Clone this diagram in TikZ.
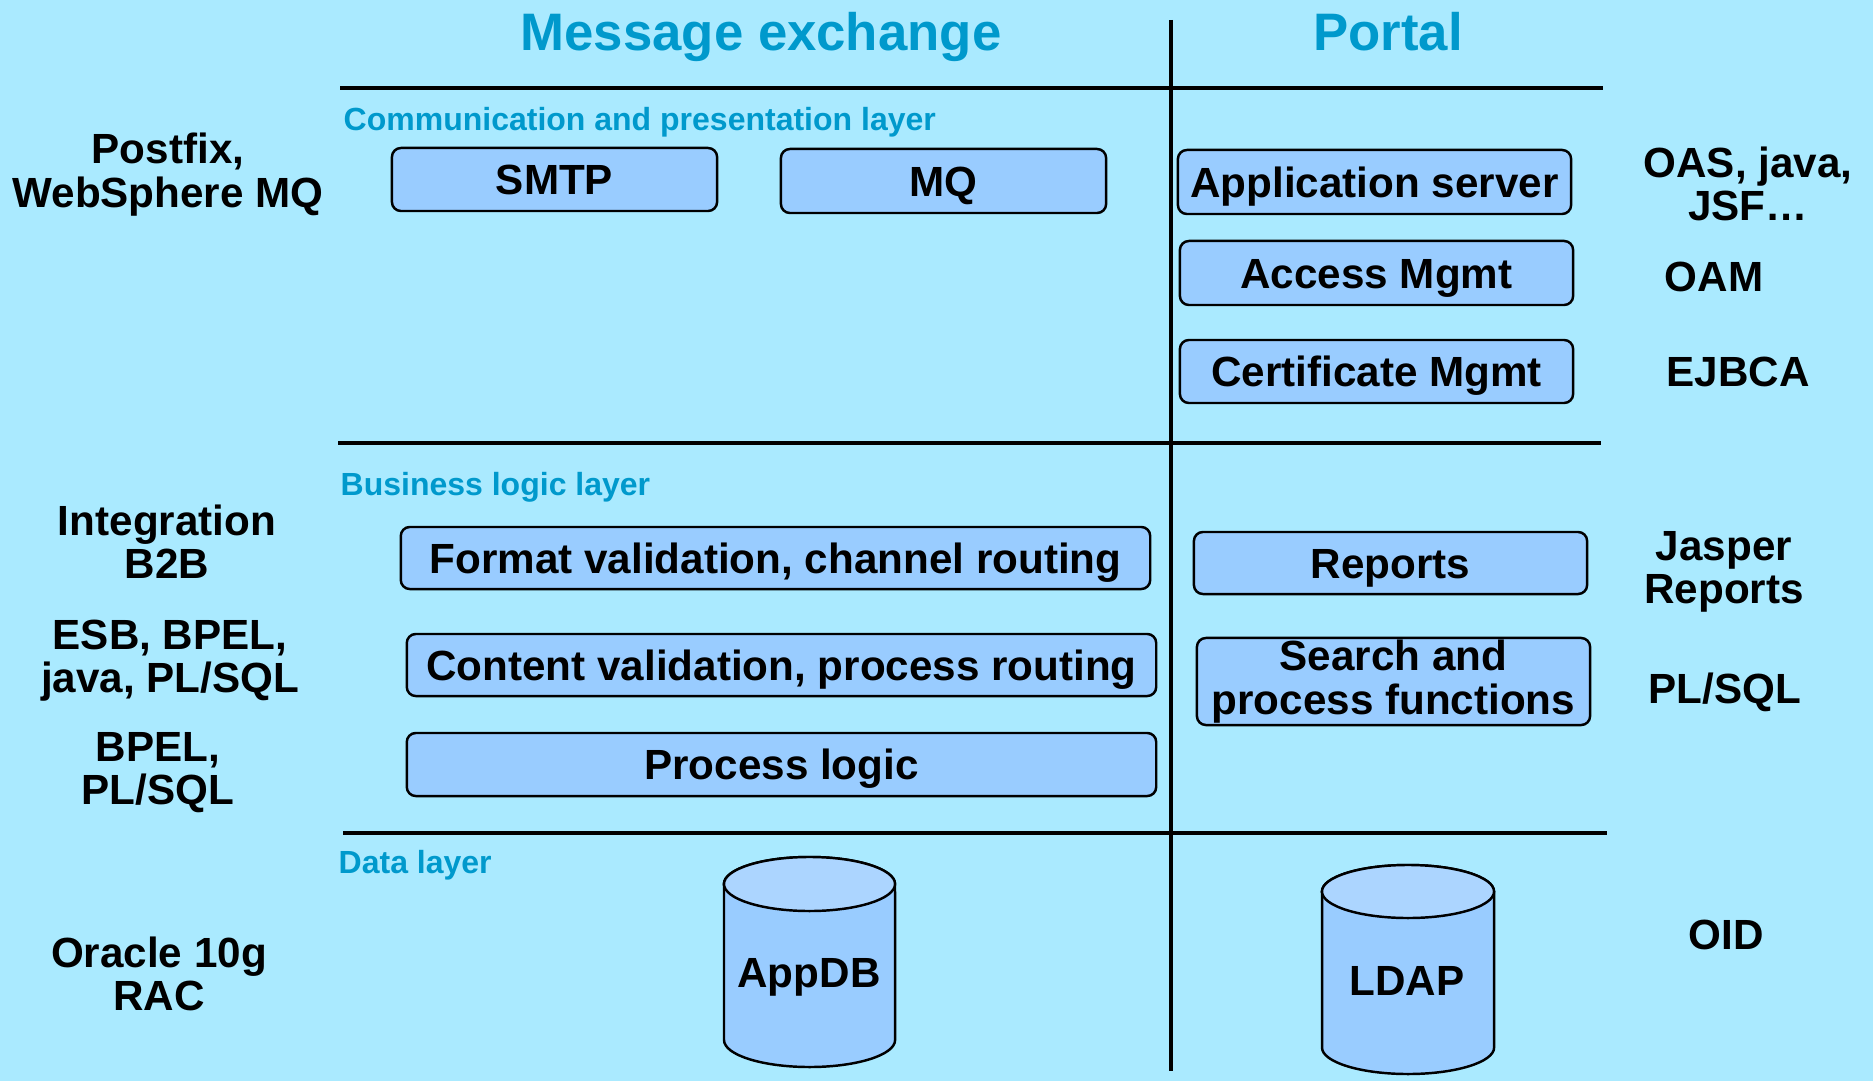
\documentclass[tikz,border=0pt]{standalone}
\usepackage{fontspec}
\setmainfont{Liberation Sans}
\definecolor{bgc}{RGB}{170,234,255}
\definecolor{boxc}{RGB}{153,204,255}
\definecolor{topc}{RGB}{172,213,255}
\definecolor{titc}{RGB}{0,153,204}
\tikzset{
  ttl/.style={text=titc,font=\fontsize{15}{18}\selectfont\bfseries,anchor=base,inner sep=0},
  lyr/.style={text=titc,font=\fontsize{9.1}{11}\selectfont\bfseries,anchor=west,inner sep=0},
  side/.style={font=\fontsize{12}{12.3}\selectfont\bfseries,align=center,inner sep=0},
  bx/.style={draw=black,line width=0.7pt,fill=boxc,rounded corners=0.09cm,inner sep=0,
    font=\fontsize{12}{12.3}\selectfont\bfseries,align=center},
  bx1/.style={bx,text height=8.6pt,text depth=0pt},
  sep/.style={line width=1pt,draw=black},
  db/.style={draw=black,line width=0.7pt},
  dbt/.style={font=\fontsize{12}{12.3}\selectfont\bfseries,inner sep=0}
}
\begin{document}
\begin{tikzpicture}[x=0.01cm,y=0.01cm]
\fill[bgc] (0,0) rectangle (1873,1081);
\useasboundingbox (0,0) rectangle (1873,1081);
% titles
\node[ttl] (tme) at (761,1030) {Message exchange};
\node[ttl] (tpo) at (1388,1030) {Portal};
% separators
\coordinate (vt) at (1171,1061); \coordinate (vb) at (1171,10);
\draw[sep] (vt) -- (vb);
\coordinate (h1a) at (340,993); \coordinate (h1b) at (1603,993);
\coordinate (h2a) at (338,638); \coordinate (h2b) at (1601,638);
\coordinate (h3a) at (343,248); \coordinate (h3b) at (1607,248);
\draw[sep] (h1a) -- (h1b);
\draw[sep] (h2a) -- (h2b);
\draw[sep] (h3a) -- (h3b);
% layer labels
\node[lyr] (l1) at (343,958.5) {Communication and presentation layer};
\node[lyr] (l2) at (340,594) {Business logic layer};
\node[lyr] (l3) at (338,215.5) {Data layer};
% boxes
\node[bx1,minimum width=3.25cm,minimum height=0.63cm] (smtp) at (554.5,901.5) {SMTP};
\node[bx1,minimum width=3.25cm,minimum height=0.64cm] (mq) at (943.5,900) {MQ};
\node[bx1,minimum width=3.93cm,minimum height=0.64cm] (as) at (1374.5,899) {Application server};
\node[bx1,minimum width=3.93cm,minimum height=0.64cm] (am) at (1376.5,808) {Access Mgmt};
\node[bx1,minimum width=3.93cm,minimum height=0.63cm] (cm) at (1376.5,709.5) {Certificate Mgmt};
\node[bx1,minimum width=7.49cm,minimum height=0.62cm] (fv) at (775.5,523) {Format validation, channel routing};
\node[bx1,minimum width=7.49cm,minimum height=0.62cm] (cv) at (781.5,416) {Content validation, process routing};
\node[bx1,minimum width=7.49cm,minimum height=0.63cm] (pl) at (781.5,316.5) {Process logic};
\node[bx1,minimum width=3.93cm,minimum height=0.62cm] (rep) at (1390.5,518) {Reports};
\node[bx,minimum width=3.93cm,minimum height=0.87cm] (spf) at (1393.5,399.5) {Search and\\process functions};
% side labels
\node[side] (s1) at (168,906.4) {Postfix,\\WebSphere MQ};
\node[side] (s2) at (1748,897) {OAS, java,\\JSF\dots};
\node[side] (s3) at (1714,804) {OAM};
\node[side] (s4) at (1738,709) {EJBCA};
\node[side] (s5) at (167,539) {Integration\\B2B};
\node[side] (s6) at (170,420.2) {ESB, BPEL,\\java, PL/SQL};
\node[side] (s7) at (158,308.6) {BPEL,\\PL/SQL};
\node[side] (s8) at (159,107) {Oracle 10g\\RAC};
\node[side] (s9) at (1724,509) {Jasper\\Reports};
\node[side] (s10) at (1725,388.4) {PL/SQL};
\node[side] (s11) at (1726,146) {OID};
% cylinders
\filldraw[db,fill=boxc] (724,197) -- (724,41) arc[start angle=180,end angle=360,x radius=0.855cm,y radius=0.27cm] -- (895,197) arc[start angle=0,end angle=180,x radius=0.855cm,y radius=0.27cm] -- cycle;
\filldraw[db,fill=topc] (809.5,197) ellipse[x radius=0.855cm,y radius=0.27cm];
\node[dbt] (appdb) at (809,103.4) {AppDB};
\filldraw[db,fill=boxc] (1322,189.5) -- (1322,33.5) arc[start angle=180,end angle=360,x radius=0.86cm,y radius=0.265cm] -- (1494,189.5) arc[start angle=0,end angle=180,x radius=0.86cm,y radius=0.265cm] -- cycle;
\filldraw[db,fill=topc] (1408,189.5) ellipse[x radius=0.86cm,y radius=0.265cm];
\node[dbt] (ldap) at (1407,100) {LDAP};
\end{tikzpicture}
\end{document}
